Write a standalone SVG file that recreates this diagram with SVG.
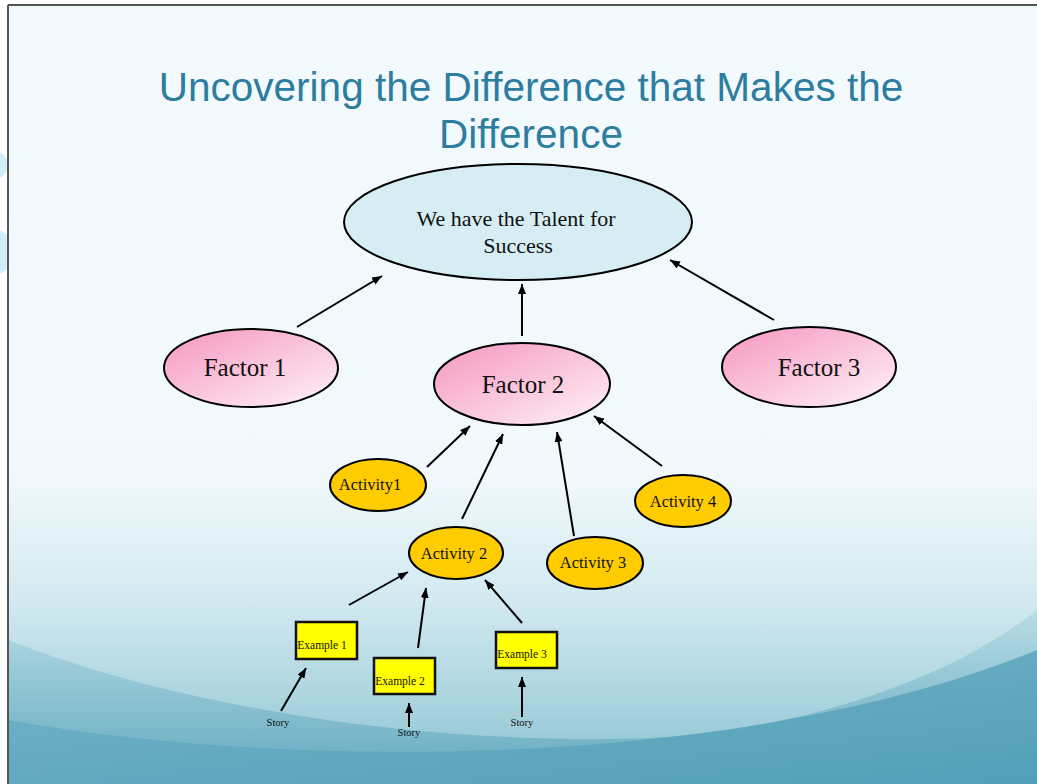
<svg xmlns="http://www.w3.org/2000/svg" width="1037" height="784" viewBox="0 0 1037 784">
<defs>
  <linearGradient id="bg" x1="0" y1="0" x2="0" y2="1">
    <stop offset="0" stop-color="#f3fafd"/>
    <stop offset="0.6" stop-color="#f2f9fc"/>
    <stop offset="0.76" stop-color="#d3eaf1"/>
    <stop offset="0.9" stop-color="#a9d3de"/>
    <stop offset="1" stop-color="#86bfcf"/>
  </linearGradient>
  <linearGradient id="waveA" x1="0" y1="0" x2="0" y2="1">
    <stop offset="0" stop-color="#a2cfdc" stop-opacity="0.6"/>
    <stop offset="0.5" stop-color="#7cb9cb" stop-opacity="0.85"/>
    <stop offset="1" stop-color="#5aa4bb"/>
  </linearGradient>
  <linearGradient id="waveB" x1="0" y1="0" x2="1" y2="0">
    <stop offset="0" stop-color="#62a9bf"/>
    <stop offset="1" stop-color="#4c9bb5"/>
  </linearGradient>
  <linearGradient id="pink" x1="0" y1="0" x2="1" y2="1">
    <stop offset="0" stop-color="#f596c0"/>
    <stop offset="1" stop-color="#fff3f8"/>
  </linearGradient>
  <marker id="arr" viewBox="0 0 10 8" refX="10" refY="4" markerWidth="10" markerHeight="8" orient="auto" markerUnits="userSpaceOnUse">
    <path d="M0,0 L10,4 L0,8 Z" fill="#000"/>
  </marker>
  <style>
    .title{font-family:"Liberation Sans",Arial,sans-serif;font-size:40.5px;fill:#2c7d9f;text-anchor:middle}
    .serif{font-family:"Liberation Serif","Times New Roman",serif;fill:#111;text-anchor:middle}
    .top{fill:#d6edf4;stroke:#000;stroke-width:2}
    .factor{fill:url(#pink);stroke:#000;stroke-width:2}
    .act{fill:#ffcc00;stroke:#000;stroke-width:2}
    .ex{fill:#ffff00;stroke:#111;stroke-width:2.5}
    .conn line{stroke:#000;stroke-width:2;marker-end:url(#arr)}
    .t21{font-size:22px}
    .t25{font-size:25px}
    .t17{font-size:16.5px}
    .t11{font-size:11.5px}
    .t10{font-size:10.5px}
  </style>
</defs>

<!-- background -->
<rect x="0" y="0" width="1037" height="784" fill="#ffffff"/>
<circle cx="-6" cy="165" r="14" fill="#d3edf9"/>
<circle cx="-10" cy="252" r="24" fill="#d3edf9"/>
<rect x="8" y="5" width="1029" height="779" fill="url(#bg)"/>
<path d="M8,640 C200,715 450,745 650,738 C800,730 950,680 1037,610 L1037,784 L8,784 Z" fill="url(#waveA)" opacity="0.8"/>
<path d="M8,720 C300,772 750,768 1037,650 L1037,784 L8,784 Z" fill="url(#waveB)" opacity="0.7"/>
<path d="M8,5 H1037 M8,5 V784" fill="none" stroke="#555" stroke-width="2"/>

<!-- title -->
<g id="title">
  <text class="title" x="531" y="101">Uncovering the Difference that Makes the</text>
  <text class="title" x="531" y="148">Difference</text>
</g>

<!-- connectors -->
<g id="connectors" class="conn">
  <line x1="297" y1="327" x2="382" y2="276"/>
  <line x1="522" y1="336" x2="522" y2="284"/>
  <line x1="774" y1="320" x2="670" y2="260"/>
  <line x1="427" y1="467" x2="470" y2="426"/>
  <line x1="462" y1="519" x2="503" y2="434"/>
  <line x1="574" y1="536" x2="557" y2="432"/>
  <line x1="662" y1="466" x2="594" y2="416"/>
  <line x1="349" y1="605" x2="408" y2="572"/>
  <line x1="418" y1="648" x2="426" y2="588"/>
  <line x1="522" y1="623" x2="485" y2="580"/>
  <line x1="281" y1="711" x2="306" y2="668"/>
  <line x1="409" y1="727" x2="409" y2="703"/>
  <line x1="522" y1="717" x2="522" y2="677"/>
</g>

<!-- nodes -->
<g id="talent">
  <ellipse class="top" cx="518" cy="222" rx="174" ry="58"/>
  <text class="serif t21" x="516" y="226">We have the Talent for</text>
  <text class="serif t21" x="518" y="253">Success</text>
</g>
<g id="factor1">
  <ellipse class="factor" cx="251" cy="368" rx="87" ry="39"/>
  <text class="serif t25" x="245" y="376">Factor 1</text>
</g>
<g id="factor2">
  <ellipse class="factor" cx="522" cy="384" rx="88" ry="41"/>
  <text class="serif t25" x="523" y="393">Factor 2</text>
</g>
<g id="factor3">
  <ellipse class="factor" cx="809" cy="367" rx="87" ry="40"/>
  <text class="serif t25" x="819" y="376">Factor 3</text>
</g>
<g id="activity1">
  <ellipse class="act" cx="378" cy="485" rx="48" ry="26"/>
  <text class="serif t17" x="370" y="490">Activity1</text>
</g>
<g id="activity2">
  <ellipse class="act" cx="456" cy="553" rx="47" ry="26"/>
  <text class="serif t17" x="454" y="559">Activity 2</text>
</g>
<g id="activity3">
  <ellipse class="act" cx="595" cy="563" rx="48" ry="26"/>
  <text class="serif t17" x="593" y="568">Activity 3</text>
</g>
<g id="activity4">
  <ellipse class="act" cx="683" cy="501" rx="48" ry="26"/>
  <text class="serif t17" x="683" y="507">Activity 4</text>
</g>
<g id="example1">
  <rect class="ex" x="296" y="622" width="61" height="37"/>
  <text class="serif t11" x="322" y="649">Example 1</text>
</g>
<g id="example2">
  <rect class="ex" x="374" y="658" width="61" height="36"/>
  <text class="serif t11" x="400" y="685">Example 2</text>
</g>
<g id="example3">
  <rect class="ex" x="496" y="632" width="61" height="36"/>
  <text class="serif t11" x="522" y="658">Example 3</text>
</g>
<g id="story1">
  <text class="serif t10" x="278" y="726">Story</text>
</g>
<g id="story2">
  <text class="serif t10" x="409" y="736">Story</text>
</g>
<g id="story3">
  <text class="serif t10" x="522" y="726">Story</text>
</g>
</svg>
